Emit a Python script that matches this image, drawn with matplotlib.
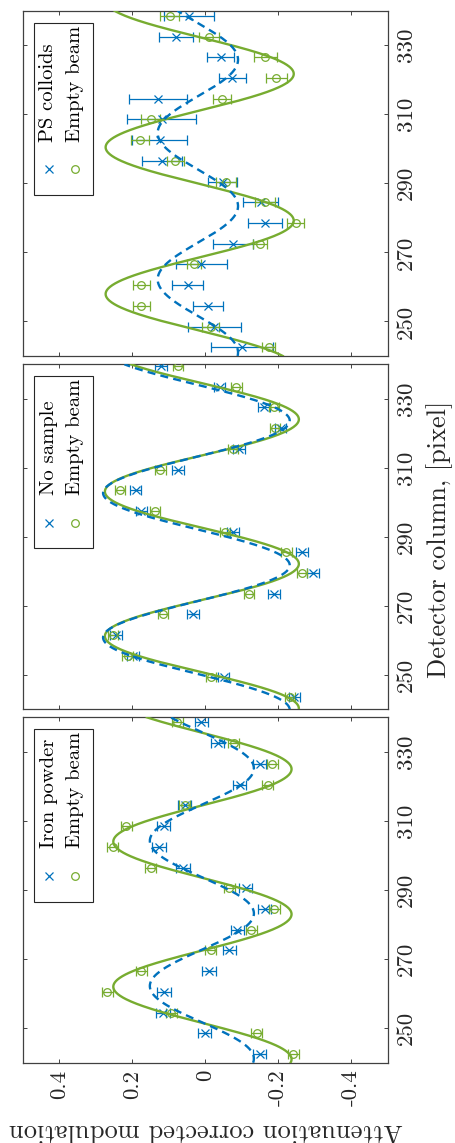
import numpy as np
import matplotlib
matplotlib.use("Agg")
import matplotlib.pyplot as plt
from matplotlib.patches import Rectangle

plt.rcParams['font.family'] = ['cmr10', 'DejaVu Serif']
plt.rcParams['axes.unicode_minus'] = False

BLUE = '#0072BD'
GREEN = '#77AC30'
DARK = '#262626'

# ---------------- data ----------------
# Panel 1 : PS colloids
cols_ps = [242.5, 248.5, 254.5, 260.5, 266.5, 272.5, 278.5, 284.5, 290.5,
           296.5, 302.5, 308.5, 314.5, 320.5, 326.5, 332.5, 338.5]
mod_ps = [-0.100, -0.025, -0.007, 0.048, 0.011, -0.076, -0.164, -0.151, -0.048,
          0.118, 0.125, 0.120, 0.130, -0.074, -0.042, 0.081, 0.045]
err_ps = [0.084, 0.072, 0.042, 0.042, 0.070, 0.055, 0.046, 0.047, 0.040,
          0.055, 0.076, 0.094, 0.079, 0.036, 0.037, 0.047, 0.069]
mod_ps_empty = [-0.174, -0.015, 0.175, 0.175, 0.031, -0.149, -0.247, -0.164, -0.057,
                0.082, 0.178, 0.150, -0.046, -0.194, -0.164, -0.010, 0.098]
err_ps_empty = [0.018, 0.023, 0.024, 0.024, 0.020, 0.019, 0.024, 0.027, 0.027,
                0.024, 0.025, 0.025, 0.025, 0.029, 0.031, 0.028, 0.025]
# fitted sinusoids: offset, amplitude, column of maximum, period
fit_ps = (0.0205, 0.110, 262.2, 42.4)
fit_ps_empty = (0.0155, 0.2575, 257.95, 42.5)

# Panel 2 : No sample
cols_ns = [243.5, 249.5, 255.5, 261.5, 267.5, 273.5, 279.5, 285.5, 291.5,
           297.5, 303.5, 309.5, 315.5, 321.5, 327.5, 333.5, 339.5]
mod_ns = [-0.244, -0.050, 0.198, 0.244, 0.034, -0.187, -0.294, -0.265, -0.076,
          0.175, 0.191, 0.075, -0.092, -0.206, -0.160, -0.039, 0.122]
err_ns = [0.016, 0.016, 0.016, 0.016, 0.016, 0.016, 0.016, 0.016, 0.016,
          0.016, 0.016, 0.016, 0.016, 0.016, 0.016, 0.016, 0.016]
mod_ns_empty = [-0.231, -0.016, 0.213, 0.253, 0.116, -0.119, -0.265, -0.222, -0.053,
                0.137, 0.233, 0.123, -0.076, -0.190, -0.187, -0.085, 0.075]
err_ns_empty = [0.014, 0.014, 0.014, 0.014, 0.014, 0.014, 0.014, 0.014, 0.014,
                0.014, 0.014, 0.014, 0.014, 0.014, 0.014, 0.014, 0.014]
fit_ns = (0.0245, 0.2555, 260.8, 41.9)
fit_ns_empty = (0.0095, 0.2655, 261.2, 41.9)

# Panel 3 : Iron powder
cols_fe = [242.5, 248.5, 254.5, 260.5, 266.5, 272.5, 278.5, 284.5, 290.5,
           296.5, 302.5, 308.5, 314.5, 320.5, 326.5, 332.5, 338.5]
mod_fe = [-0.149, 0.002, 0.116, 0.113, -0.010, -0.066, -0.087, -0.162, -0.110,
          0.061, 0.127, 0.114, 0.057, -0.094, -0.149, -0.034, 0.011]
err_fe = [0.018, 0.018, 0.018, 0.018, 0.018, 0.018, 0.018, 0.018, 0.018,
          0.018, 0.018, 0.018, 0.018, 0.018, 0.018, 0.018, 0.018]
mod_fe_empty = [-0.240, -0.141, 0.093, 0.269, 0.175, -0.015, -0.126, -0.188, -0.065,
                0.150, 0.253, 0.216, 0.057, -0.171, -0.183, -0.078, 0.077]
err_fe_empty = [0.015, 0.015, 0.015, 0.015, 0.015, 0.015, 0.015, 0.015, 0.015,
                0.015, 0.015, 0.015, 0.015, 0.015, 0.015, 0.015, 0.015]
fit_fe = (0.0095, 0.1425, 262.2, 42.0)
fit_fe_empty = (0.008, 0.244, 262.0, 42.0)

sample_labels = ['PS colloids', 'No sample', 'Iron powder']
empty_label = 'Empty beam'
col_ticks = [250, 270, 290, 310, 330]
mod_ticks = [0.4, 0.2, 0, -0.2, -0.4]
mod_tick_labels = ['0.4', '0.2', '0', '-0.2', '-0.4']
xlabel_text = 'Detector column, [pixel]'
ylabel_text = 'Attenuation corrected modulation'

panels = [
    (cols_ps, mod_ps, err_ps, mod_ps_empty, err_ps_empty, fit_ps, fit_ps_empty),
    (cols_ns, mod_ns, err_ns, mod_ns_empty, err_ns_empty, fit_ns, fit_ns_empty),
    (cols_fe, mod_fe, err_fe, mod_fe_empty, err_fe_empty, fit_fe, fit_fe_empty),
]


def sine_fit(c, off, amp, cmax, period):
    return off + amp * np.cos(2 * np.pi * (c - cmax) / period)


# ---------------- figure ----------------
W, H = 456, 1143
fig = plt.figure(figsize=(W / 100, H / 100), dpi=100)

left_px, right_px = 22.7, 388.0
rows_px = [(10.7, 356.0), (364.3, 709.3), (717.3, 1062.7)]

for i, (top_px, bot_px) in enumerate(rows_px):
    cols, mod, err, mod_e, err_e, fit_s, fit_e = panels[i]
    ax = fig.add_axes([left_px / W, 1 - bot_px / H,
                       (right_px - left_px) / W, (bot_px - top_px) / H])
    ax.set_xlim(0.5, -0.5)
    ax.set_ylim(240, 340)

    ax.errorbar(mod, cols, xerr=err, fmt='none', ecolor=BLUE, elinewidth=0.9,
                capsize=3.3, capthick=0.9, zorder=2)
    ax.plot(mod, cols, 'x', color=BLUE, ms=5.5, mew=0.9, zorder=3)
    ax.errorbar(mod_e, cols, xerr=err_e, fmt='none', ecolor=GREEN, elinewidth=0.9,
                capsize=3.3, capthick=0.9, zorder=2)
    ax.plot(mod_e, cols, 'o', color=GREEN, mfc='none', ms=5.5, mew=0.9, zorder=3)

    cc = np.linspace(240, 340, 600)
    ax.plot(sine_fit(cc, *fit_e), cc, color=GREEN, lw=1.7, zorder=4)
    ax.plot(sine_fit(cc, *fit_s), cc, color=BLUE, lw=1.7,
            ls=(0, (3.4, 2.2)), zorder=4)

    ax.set_xticks(mod_ticks)
    ax.set_xticklabels(mod_tick_labels)
    ax.set_yticks(col_ticks)
    ax.set_yticklabels([str(t) for t in col_ticks])
    ax.tick_params(direction='in', length=2.6, width=0.6, colors=DARK,
                   top=True, bottom=True, left=True, right=True,
                   labelleft=False, labelright=True, labeltop=False,
                   labelbottom=(i == 2), labelsize=16.5)
    ax.tick_params(axis='y', labelrotation=90, pad=6)
    ax.tick_params(axis='x', labelrotation=90, pad=5)
    for t in ax.yaxis.get_major_ticks():
        t.label2.set_verticalalignment('center')
    for sp in ax.spines.values():
        sp.set_color('#404040')
        sp.set_linewidth(0.9)

    # legend drawn in the rotated frame
    lx0, lx1 = (34.3 - left_px) / (right_px - left_px), (93.0 - left_px) / (right_px - left_px)
    ly0, ly1 = 0.4663, 0.9653
    ax.add_patch(Rectangle((lx0, ly0), lx1 - lx0, ly1 - ly0, transform=ax.transAxes,
                           facecolor='white', edgecolor=DARK, lw=0.8, zorder=6))
    mx1 = (48.5 - left_px) / (right_px - left_px)
    mx2 = (75.0 - left_px) / (right_px - left_px)
    my = 0.5407
    ax.plot([mx1], [my], 'x', color=BLUE, ms=5.5, mew=0.9, transform=ax.transAxes, zorder=7)
    ax.plot([mx2], [my], 'o', color=GREEN, mfc='none', ms=5.5, mew=0.9,
            transform=ax.transAxes, zorder=7)
    ax.text(mx1, 0.6206, sample_labels[i], rotation=90, ha='center', va='bottom',
            fontsize=14.8, color='black', transform=ax.transAxes, zorder=7)
    ax.text(mx2, 0.6206, empty_label, rotation=90, ha='center', va='bottom',
            fontsize=14.8, color='black', transform=ax.transAxes, zorder=7)

fig.text(440 / W, 1 - 539 / H, xlabel_text, rotation=90, ha='center', va='center',
         fontsize=19, color=DARK)
fig.text(205.7 / W, 1 - 1131 / H, ylabel_text, rotation=180, ha='center', va='center',
         fontsize=19, color=DARK)

fig.savefig('out.png', dpi=100)
